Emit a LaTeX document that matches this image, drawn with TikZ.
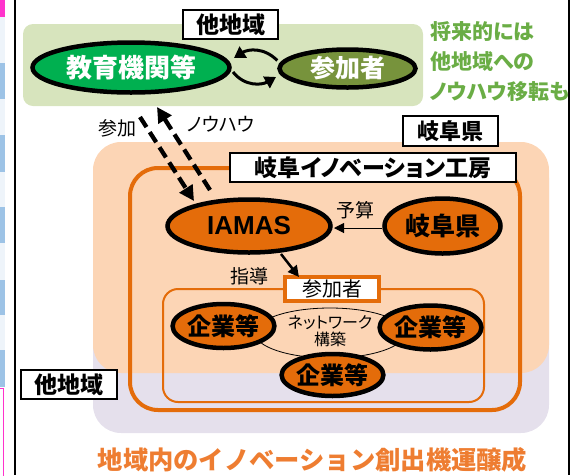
\documentclass[tikz,border=0pt]{standalone}
\usepackage{fontspec}
\setmainfont{Noto Sans CJK JP}[RawFeature=+palt]
\newfontfamily\jpfw{Noto Sans CJK JP}
\newfontfamily\lat{Liberation Sans}
\usetikzlibrary{arrows.meta,shapes.geometric}
\definecolor{greg}{HTML}{D7E4BD}
\definecolor{gell}{HTML}{00B050}
\definecolor{olive}{HTML}{77933C}
\definecolor{gtext}{HTML}{6AAD45}
\definecolor{lav}{HTML}{E5E0EC}
\definecolor{peach}{HTML}{FCD5B5}
\definecolor{orng}{HTML}{E46C0A}
\definecolor{otitle}{HTML}{EE7D31}
\definecolor{magenta2}{HTML}{FF33CC}
\definecolor{sblue}{HTML}{9DC3E6}
\definecolor{slight}{HTML}{EEF4FA}
\newcommand{\fs}[1]{\fontsize{#1}{#1}\selectfont}
\begin{document}
\begin{tikzpicture}[x=1pt,y=-1pt,
  ell/.style={ellipse, draw=black, line width=4.5pt, inner sep=0pt},
  lblbox/.style={draw=black, line width=1.5pt, fill=white, inner sep=0pt},
  dasharrow/.style={line width=4.3pt, dash pattern=on 12pt off 6pt, -{Triangle[length=15pt,width=15pt]}},
  cyc/.style={line width=3pt, -{Triangle[length=11pt,width=13pt]}}]
\useasboundingbox (0,0) rectangle (581,475);
% slide edge decorations
\fill[magenta2] (0,0) rectangle (5,17);
\fill[slight] (0,17) rectangle (5,387);
\foreach \a/\b in {63/99,135/172,207/243,280/315,350/387}
  \fill[sblue] (0,\a) rectangle (5,\b);
\draw[magenta2, line width=1pt] (-2,388) -- (3,388) -- (3,480);
\draw[black, line width=2pt] (15,0) -- (15,475);
\draw[black, line width=2pt] (569,0) -- (569,475);
% regions
\fill[lav, rounded corners=28pt] (93,150) rectangle (549,433);
\fill[peach, rounded corners=28pt] (93,142) rectangle (549,373);
\fill[greg, rounded corners=10pt] (23,24) rectangle (423,106);
% orange frames
\draw[orng, line width=4pt, rounded corners=28pt] (130,168) rectangle (520,410);
\draw[orng, line width=2pt, rounded corners=15pt] (163,289) rectangle (484,402);
% label boxes
\node[lblbox, minimum width=95pt, minimum height=29pt] (tA) at (230.5,24.5) {\fs{23}\bfseries 他地域};
\node[lblbox, minimum width=95pt, minimum height=30pt] (gk) at (450.5,131) {\fs{22}\bfseries 岐阜県};
\node[lblbox, minimum width=286pt, minimum height=29pt] (kobo) at (373,167.5) {\fs{23}\bfseries 岐阜イノベーション工房};
\node[lblbox, minimum width=96pt, minimum height=29pt] (tB) at (69,384.5) {\fs{23}\bfseries 他地域};
% network ellipse
\node[ellipse, draw=black, line width=0.8pt, minimum width=150pt, minimum height=50pt] (net) at (330,333) {};
\node (nettext) at (330,333) {\fs{16}\begin{tabular}{c}ネットワーク\\[-1pt]構築\end{tabular}};
% top ellipses
\node[ell, fill=gell, minimum width=197pt, minimum height=50pt] (edu) at (131,67.5) {\fs{26}\bfseries\color{white} 教育機関等};
\node[ell, fill=olive, minimum width=136pt, minimum height=38pt] (sanka1) at (347.5,68.5) {\fs{25}\bfseries\color{white} 参加者};
\draw[cyc] (sanka1.west) ++(0,-8) coordinate (c1) .. controls (264,47) and (248,49) .. (234,58);
\draw[cyc] (233,72) .. controls (245,87) and (262,85) .. (276,77);
% green note
\node[anchor=north west, align=left, text=gtext, inner sep=0pt] (note) at (430,21) {\fs{21}\bfseries\begin{tabular}{@{}l@{}}将来的には\\[6pt]他地域への\\[6pt]ノウハウ移転も\end{tabular}};
% IAMAS and Gifu
\node[ell, fill=orng, minimum width=163pt, minimum height=53pt] (iamas) at (249,226) {\lat\fs{26}\bfseries IAMAS};
\node[ell, fill=orng, minimum width=116pt, minimum height=55pt] (gifu) at (442.5,226) {\fs{25}\bfseries 岐阜県};
\draw[line width=1pt, -{Triangle[length=10pt,width=10pt]}] (gifu.west) ++(0,2) -- (334,228);
\node (yosan) at (355,210) {\fs{19}予算};
% dashed arrows
\coordinate (d1s) at (140,117);
\coordinate (d1e) at (194,201);
\coordinate (d2s) at (210,190);
\coordinate (d2e) at (157,107);
\draw[dasharrow] (d1s) -- (d1e);
\draw[dasharrow] (d2s) -- (d2e);
\node (l1) at (117,128) {\fs{19}参加};
\node (l2) at (221,124) {\fs{19}ノウハウ};
% participants box
\node[draw=orng, line width=4pt, fill=white, minimum width=94pt, minimum height=24pt, inner sep=0pt] (sanka2) at (332,289) {\fs{20}参加者};
\draw[line width=2.5pt, -{Triangle[length=11pt,width=11pt]}] (281,254) -- (299,277);
\node (shido) at (249,276) {\fs{19}指導};
% companies
\node[ell, fill=orng, minimum width=91pt, minimum height=44pt] (k1) at (223.5,326) {\fs{24}\bfseries 企業等};
\node[ell, fill=orng, minimum width=91pt, minimum height=44pt] (k2) at (430.5,327.5) {\fs{24}\bfseries 企業等};
\node[ell, fill=orng, minimum width=91pt, minimum height=42pt] (k3) at (332.5,375) {\fs{24}\bfseries 企業等};
% title
\node[text=otitle] (title) at (312.5,460) {\jpfw\fs{25.3}\bfseries 地域内のイノベーション創出機運醸成};
\end{tikzpicture}
\end{document}
